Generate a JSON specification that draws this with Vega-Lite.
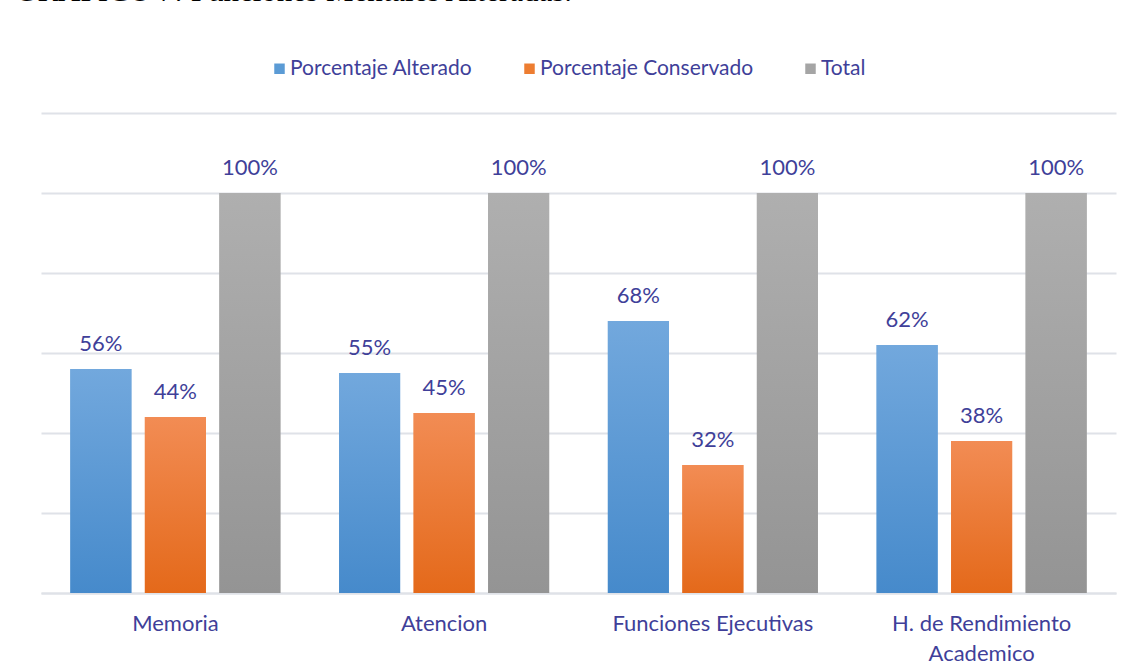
{
  "$schema": "https://vega.github.io/schema/vega-lite/v6.json",
  "autosize": "none",
  "width": 1075,
  "height": 480,
  "padding": {"left": 41, "top": 113, "right": 15, "bottom": 73},
  "background": "white",
  "title": {
    "text": "GRÁFICO 7: Funciones Mentales Alteradas.",
    "anchor": "start",
    "font": "Liberation Serif",
    "fontSize": 31,
    "fontWeight": "normal",
    "color": "#000000",
    "dx": -26,
    "offset": 26,
    "baseline": "alphabetic",
    "limit": 0
  },
  "config": {
    "view": {"stroke": null},
    "font": "Lato"
  },
  "data": {
    "values": [
      {"categoria": "Memoria", "serie": "Porcentaje Alterado", "valor": 56},
      {"categoria": "Memoria", "serie": "Porcentaje Conservado", "valor": 44},
      {"categoria": "Memoria", "serie": "Total", "valor": 100},
      {"categoria": "Atencion", "serie": "Porcentaje Alterado", "valor": 55},
      {"categoria": "Atencion", "serie": "Porcentaje Conservado", "valor": 45},
      {"categoria": "Atencion", "serie": "Total", "valor": 100},
      {"categoria": "Funciones Ejecutivas", "serie": "Porcentaje Alterado", "valor": 68},
      {"categoria": "Funciones Ejecutivas", "serie": "Porcentaje Conservado", "valor": 32},
      {"categoria": "Funciones Ejecutivas", "serie": "Total", "valor": 100},
      {"categoria": "H. de Rendimiento Academico", "serie": "Porcentaje Alterado", "valor": 62},
      {"categoria": "H. de Rendimiento Academico", "serie": "Porcentaje Conservado", "valor": 38},
      {"categoria": "H. de Rendimiento Academico", "serie": "Total", "valor": 100}
    ]
  },
  "encoding": {
    "x": {
      "field": "categoria",
      "type": "nominal",
      "sort": ["Memoria", "Atencion", "Funciones Ejecutivas", "H. de Rendimiento Academico"],
      "scale": {"paddingInner": 0, "paddingOuter": 0},
      "axis": {
        "title": null,
        "labelAngle": 0,
        "ticks": false,
        "domainColor": "#dfe2e8",
        "domainWidth": 2,
        "labelFont": "Lato",
        "labelFontSize": 22,
        "labelColor": "#403F99",
        "labelPadding": 20,
        "labelLineHeight": 30,
        "labelBaseline": "top",
        "labelLimit": 0,
        "labelExpr": "datum.label == 'H. de Rendimiento Academico' ? ['H. de Rendimiento', 'Academico'] : datum.label"
      }
    },
    "xOffset": {
      "field": "serie",
      "type": "nominal",
      "scale": {"paddingInner": 0.181, "paddingOuter": 0.394}
    },
    "y": {
      "field": "valor",
      "type": "quantitative",
      "scale": {"domain": [0, 120], "nice": false},
      "axis": {
        "title": null,
        "labels": false,
        "ticks": false,
        "domain": false,
        "values": [0, 20, 40, 60, 80, 100, 120],
        "gridColor": "#dfe2e8",
        "gridWidth": 2
      }
    }
  },
  "layer": [
    {
      "mark": {"type": "bar"},
      "encoding": {
        "color": {
          "field": "serie",
          "type": "nominal",
          "scale": {
            "domain": ["Porcentaje Alterado", "Porcentaje Conservado", "Total"],
            "range": ["#5b9bd5", "#ed7d31", "#a5a5a5"]
          },
          "legend": {
            "title": null,
            "orient": "none",
            "direction": "horizontal",
            "legendX": 228,
            "legendY": -55,
            "symbolType": "square",
            "symbolSize": 110,
            "symbolStrokeWidth": 0,
            "labelFont": "Lato",
            "labelFontSize": 21,
            "labelColor": "#403F99",
            "labelOffset": 0,
            "labelLimit": 0,
            "columnPadding": 46
          }
        }
      }
    },
    {
      "transform": [{"filter": "datum.serie == 'Porcentaje Alterado'"}],
      "mark": {
        "type": "bar",
        "color": {
          "gradient": "linear",
          "x1": 0, "y1": 0, "x2": 0, "y2": 1,
          "stops": [
            {"offset": 0, "color": "#72a8dd"},
            {"offset": 1, "color": "#468acb"}
          ]
        }
      }
    },
    {
      "transform": [{"filter": "datum.serie == 'Porcentaje Conservado'"}],
      "mark": {
        "type": "bar",
        "color": {
          "gradient": "linear",
          "x1": 0, "y1": 0, "x2": 0, "y2": 1,
          "stops": [
            {"offset": 0, "color": "#f28c54"},
            {"offset": 1, "color": "#e4691a"}
          ]
        }
      }
    },
    {
      "transform": [{"filter": "datum.serie == 'Total'"}],
      "mark": {
        "type": "bar",
        "color": {
          "gradient": "linear",
          "x1": 0, "y1": 0, "x2": 0, "y2": 1,
          "stops": [
            {"offset": 0, "color": "#afafaf"},
            {"offset": 1, "color": "#949494"}
          ]
        }
      }
    },
    {
      "mark": {
        "type": "text",
        "font": "Lato",
        "fontSize": 22,
        "color": "#403F99",
        "baseline": "alphabetic",
        "dy": -18
      },
      "encoding": {
        "text": {"value": {"expr": "datum.valor + '%'"}}
      }
    }
  ]
}
